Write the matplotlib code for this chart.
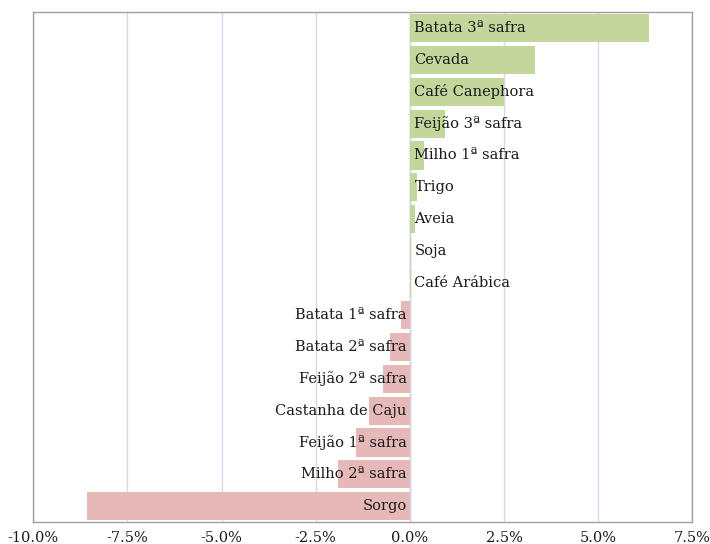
import numpy as np
import matplotlib.pyplot as plt
from matplotlib.ticker import FuncFormatter

# Categories top to bottom and their change (%)
crops = ['Batata 3ª safra', 'Cevada', 'Café Canephora', 'Feijão 3ª safra',
         'Milho 1ª safra', 'Trigo', 'Aveia', 'Soja', 'Café Arábica',
         'Batata 1ª safra', 'Batata 2ª safra', 'Feijão 2ª safra',
         'Castanha de Caju', 'Feijão 1ª safra', 'Milho 2ª safra', 'Sorgo']
change = [6.34, 3.33, 2.50, 0.93, 0.37, 0.18, 0.13, 0.02, 0.02,
          -0.24, -0.53, -0.72, -1.09, -1.44, -1.92, -8.57]
xticks = [-10.0, -7.5, -5.0, -2.5, 0.0, 2.5, 5.0, 7.5]

plt.rcParams['font.family'] = 'DejaVu Serif'

fig = plt.figure(figsize=(7.1, 5.44), dpi=100)
ax = fig.add_axes([0.047, 0.040, 0.928, 0.938])

y = np.arange(len(crops))[::-1]
colors = ['#c3d69b' if v > 0 else '#e6b9b8' for v in change]
ax.barh(y, change, height=0.88, color=colors, zorder=2)

for yi, name, v in zip(y, crops, change):
    if v >= 0:
        ax.text(0.12, yi, name, ha='left', va='center', fontsize=10.5,
                color='#1a1a1a', zorder=3)
    else:
        ax.text(-0.08, yi, name, ha='right', va='center', fontsize=10.5,
                color='#1a1a1a', zorder=3)

ax.set_xlim(-10, 7.5)
ax.set_ylim(-0.5, len(crops) - 0.5)
ax.set_xticks(xticks)
ax.xaxis.set_major_formatter(FuncFormatter(lambda v, p: f'{v:.1f}%'))
ax.set_yticks([])
ax.tick_params(axis='x', length=0, labelsize=10.5, pad=6, labelcolor='#1a1a1a')
ax.grid(axis='x', color='#d8d8ec', linewidth=1, zorder=0)
ax.axvline(0, color='#b0b0b0', linewidth=1, zorder=1)
for s in ax.spines.values():
    s.set_color('#a0a0a0')
    s.set_linewidth(1)

fig.savefig('out.png', dpi=100)
